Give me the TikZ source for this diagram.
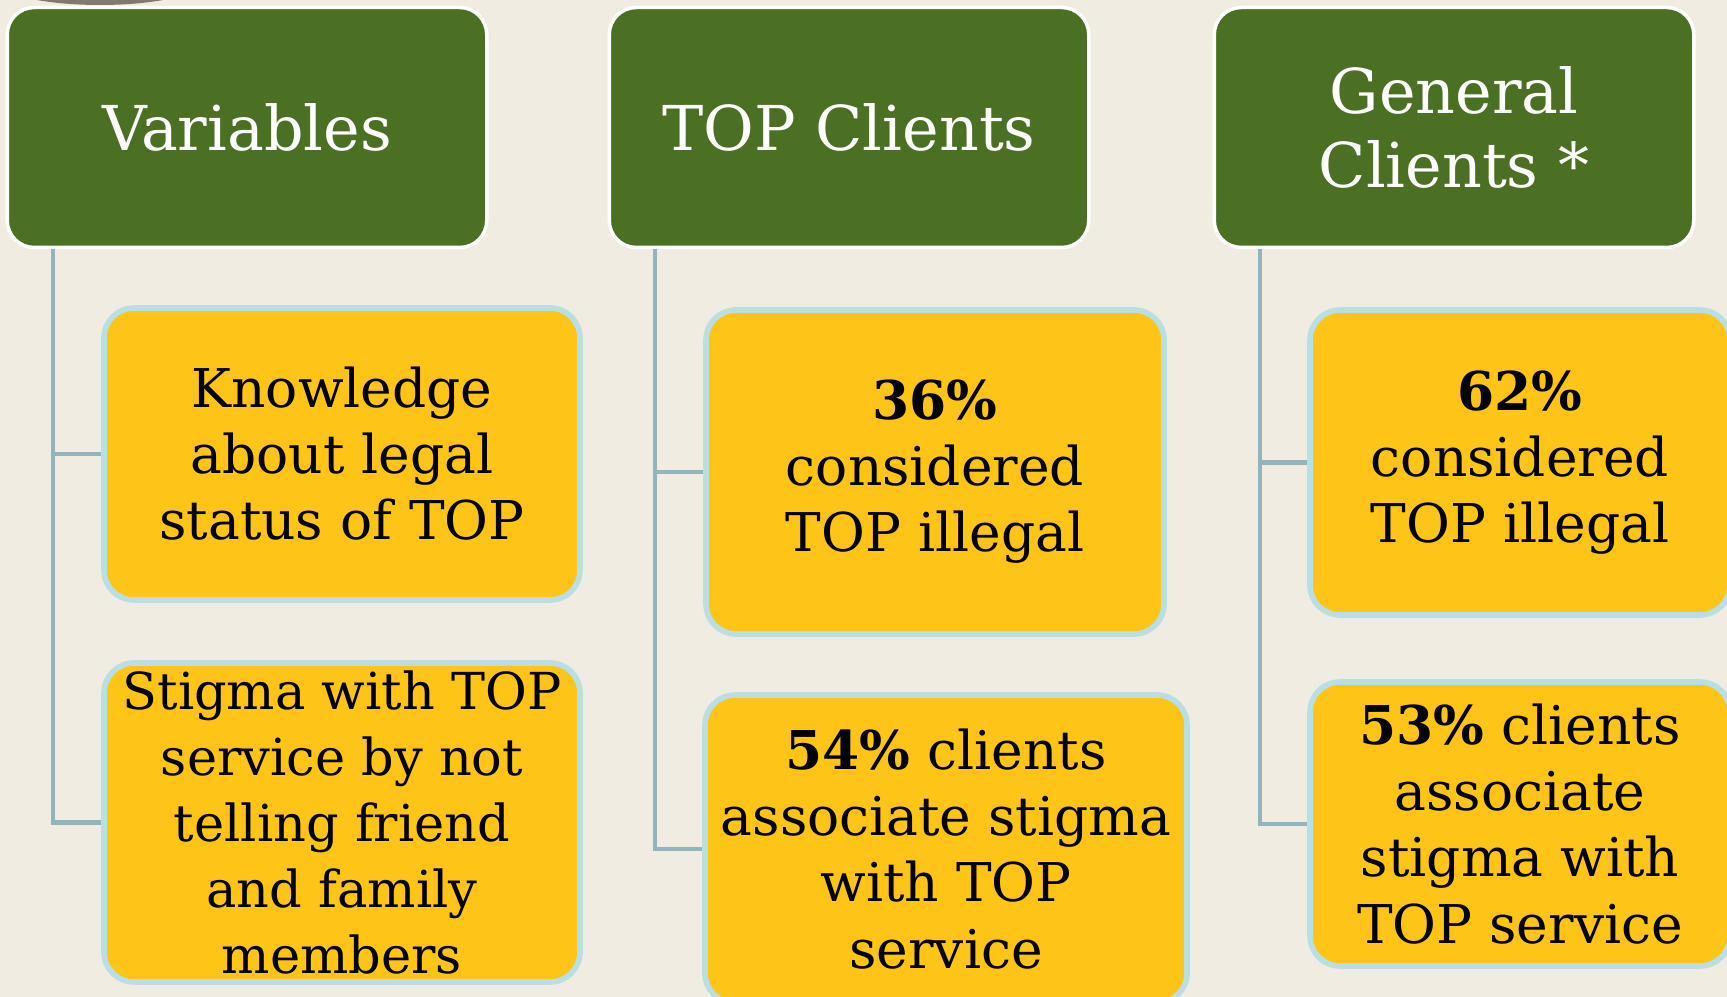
\documentclass[tikz,border=0pt]{standalone}
\usepackage{fontspec}
\setmainfont{DejaVu Serif}
\usetikzlibrary{graphs}
\definecolor{paper}{RGB}{240,236,226}
\definecolor{smudge}{RGB}{128,121,110}
\definecolor{headgreen}{RGB}{75,112,35}
\definecolor{itemgold}{RGB}{254,196,24}
\definecolor{itemblue}{RGB}{185,222,228}
\definecolor{linkgray}{RGB}{147,180,188}

\begin{document}
\begin{tikzpicture}[align=center,inner sep=0pt,
  head/.style={draw=white,line width=1pt,fill=headgreen,rounded corners=0.27cm,
    minimum width=4.795cm,minimum height=2.4cm,text=white,
    font=\fontsize{17.6}{21.3}\selectfont},
  item/.style={draw=itemblue,line width=1.6pt,fill=itemgold,rounded corners=0.3cm,
    font=\fontsize{15.2}{18.8}\selectfont},
  branch/.style={draw=linkgray,line width=1.3pt,
    to path={([xshift=0.475cm]\tikztostart.south west) |- (\tikztotarget)}}]
\useasboundingbox (0,0) rectangle (17.27,-9.97);
\clip (0,0) rectangle (17.27,-9.97);
\fill[paper] (0,0) rectangle (17.27,-9.97);
\fill[smudge] (1.0,0.25) ellipse (1.15 and 0.3);
\graph [no placement]
{
  Variables[x= 2.47,y=-1.275,head,as=Variables],
  TOPClients[x= 8.49,y=-1.275,head,as=TOP Clients],
  General[x=14.54,y=-1.275,head,as={General \\ Clients *}],

  Know[x= 3.42,y=-4.54 ,item,minimum width=4.76cm,minimum height=2.92cm,
    as={Knowledge \\ about legal \\ status of TOP}],
  Stig[x= 3.42,y=-8.225,item,minimum width=4.76cm,minimum height=3.19cm,
    font=\fontsize{14.5}{18.8}\selectfont,
    as={Stigma with TOP \\ service by not \\ telling friend \\ and family \\ members}],

  Top36[x= 9.35,y=-4.72 ,item,minimum width=4.58cm,minimum height=3.24cm,
    as={\textbf{36\%} \\ considered \\ TOP illegal}],
  Top54[x= 9.46,y=-8.49 ,item,minimum width=4.82cm,minimum height=3.08cm,
    as={\textbf{54\%} clients \\ associate stigma \\ with TOP \\ service}],

  Gen62[x=15.2 ,y=-4.625,item,minimum width=4.2cm,minimum height=3.05cm,
    as={\textbf{62\%} \\ considered \\ TOP illegal}],
  Gen53[x=15.2 ,y=-8.24 ,item,minimum width=4.2cm,minimum height=2.84cm,
    as={\textbf{53\%} clients \\ associate \\ stigma with \\ TOP service}],

  Variables  --[branch] { Know, Stig },
  TOPClients --[branch] { Top36, Top54 },
  General    --[branch] { Gen62, Gen53 }
};
\end{tikzpicture}
\end{document}
